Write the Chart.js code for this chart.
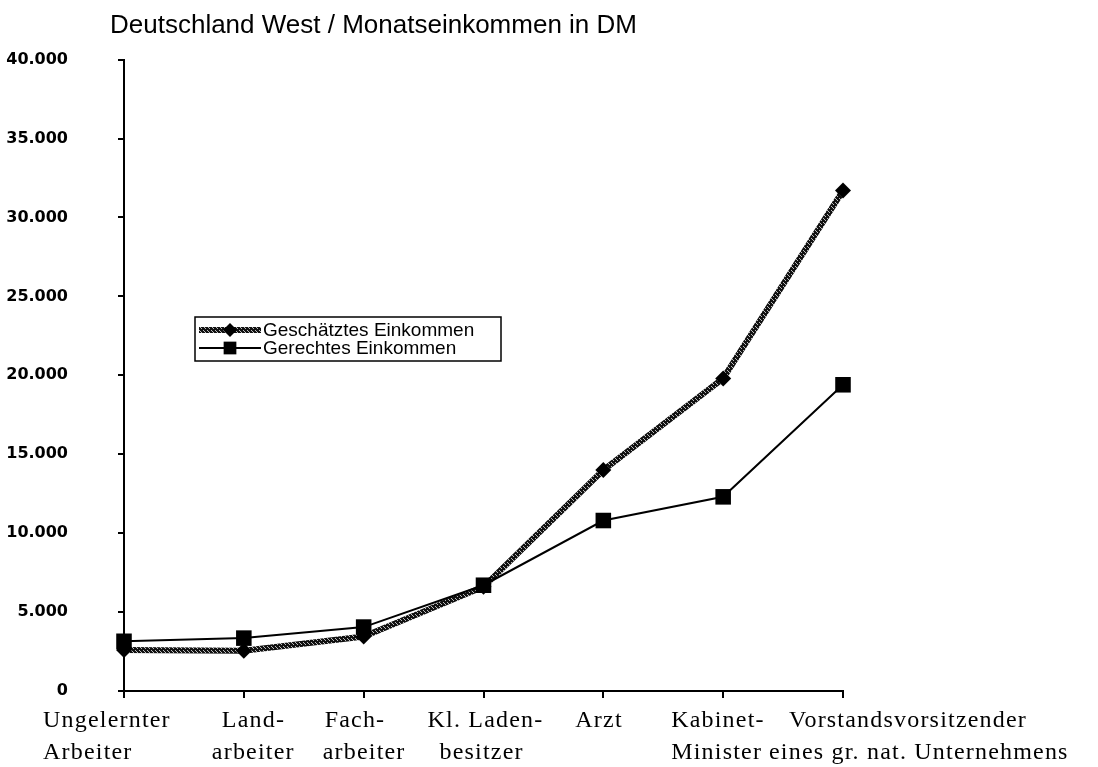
<!DOCTYPE html>
<html>
<head>
<meta charset="utf-8">
<script src="https://cdn.jsdelivr.net/npm/chart.js"></script>
<style>
  html, body { margin: 0; padding: 0; background: #fff; }
  #wrap { width: 1098px; height: 767px; position: relative; }
</style>
</head>
<body>
<div id="wrap"><canvas id="chart"></canvas></div>
<script>
// Berufe (zweizeilige Beschriftung)
const categories = [
    ['Ungelernter', 'Arbeiter'],
    ['Land-', 'arbeiter'],
    ['Fach-', 'arbeiter'],
    ['Kl. Laden-', 'besitzer'],
    ['Arzt', ''],
    ['Kabinet-', 'Minister'],
    ['Vorstandsvorsitzender', 'eines gr. nat. Unternehmens']
];
const geschaetzt = [2600, 2550, 3450, 6600, 14000, 19800, 31700];
const gerecht = [3150, 3350, 4050, 6700, 10800, 12300, 19400];
const yTicks = [0, 5000, 10000, 15000, 20000, 25000, 30000, 35000, 40000];
const titleText = 'Deutschland West / Monatseinkommen in DM';
const seriesNames = ['Geschätztes Einkommen', 'Gerechtes Einkommen'];

// gesprenkelte Linie wie im gedruckten Original
function speckle() {
    const c = document.createElement('canvas');
    c.width = 4; c.height = 4;
    const g = c.getContext('2d');
    g.fillStyle = '#111';
    g.fillRect(0, 0, 4, 4);
    g.fillStyle = '#bbb';
    g.fillRect(1, 0, 1, 1);
    g.fillRect(3, 2, 1, 1);
    g.fillRect(0, 3, 1, 1);
    return g.createPattern(c, 'repeat');
}

// linke Kante der Beschriftung relativ zum Kategoriepunkt
const labelShift = [[-81, -81], [-22, -32], [-39, -41], [-56, -44], [-28, 0], [-52, -52], [-54, -74]];

const overlay = {
    id: 'overlay',
    afterDraw(chart) {
        const ctx = chart.ctx;
        const x = chart.scales.x;
        ctx.save();
        // Titel
        ctx.fillStyle = '#000';
        ctx.font = '26px "Liberation Sans", Arial, sans-serif';
        ctx.textAlign = 'left';
        ctx.textBaseline = 'alphabetic';
        ctx.fillText(titleText, 110, 33);

        // Kategorien
        ctx.font = '24px "Liberation Serif", "Times New Roman", serif';
        ctx.letterSpacing = '1.2px';
        categories.forEach((lines, i) => {
            const px = x.getPixelForValue(i);
            ctx.fillText(lines[0], px + labelShift[i][0], 727);
            if (lines[1]) ctx.fillText(lines[1], px + labelShift[i][1], 759);
        });
        ctx.letterSpacing = '0px';

        // Legende
        const lx = 195, ly = 317, lw = 306, lh = 44;
        ctx.lineWidth = 1.5;
        ctx.strokeStyle = '#000';
        ctx.strokeRect(lx, ly, lw, lh);
        ctx.font = '19px "Liberation Sans", Arial, sans-serif';
        ctx.textBaseline = 'middle';
        const rows = [ly + 13, ly + 31];
        chart.data.datasets.forEach((ds, i) => {
            const yy = rows[i];
            ctx.beginPath();
            ctx.strokeStyle = ds.borderColor;
            ctx.lineWidth = ds.borderWidth;
            ctx.moveTo(lx + 4, yy);
            ctx.lineTo(lx + 66, yy);
            ctx.stroke();
            Chart.helpers.drawPoint(ctx, {
                pointStyle: ds.pointStyle,
                radius: ds.legendRadius,
                borderWidth: 0
            }, lx + 35, yy);
            ctx.fillStyle = '#000';
            ctx.fillText(seriesNames[i], lx + 68, yy + 1);
        });
        ctx.restore();
    }
};

const ctx = document.getElementById('chart');
new Chart(ctx, {
    type: 'line',
    data: {
        labels: categories.map(c => c.join(' ')),
        datasets: [
            {
                label: seriesNames[0],
                data: geschaetzt,
                borderColor: speckle(),
                borderWidth: 6,
                pointStyle: 'rectRot',
                pointRadius: 8,
                legendRadius: 7,
                pointBackgroundColor: '#000',
                pointBorderWidth: 0,
                tension: 0,
                order: 1
            },
            {
                label: seriesNames[1],
                data: gerecht,
                borderColor: '#000',
                borderWidth: 2,
                pointStyle: 'rect',
                pointRadius: 11,
                legendRadius: 9,
                pointBackgroundColor: '#000',
                pointBorderWidth: 0,
                tension: 0,
                order: 0
            }
        ]
    },
    options: {
        responsive: true,
        maintainAspectRatio: false,
        animation: false,
        clip: false,
        layout: { autoPadding: false, padding: { top: 45, right: 255, bottom: 0, left: 0 } },
        plugins: {
            legend: { display: false },
            title: { display: false },
            tooltip: { enabled: false }
        },
        scales: {
            x: {
                type: 'category',
                offset: false,
                grid: {
                    drawOnChartArea: false,
                    drawTicks: true,
                    tickLength: 7,
                    color: '#000',
                    lineWidth: 2
                },
                border: { display: true, color: '#000', width: 2 },
                ticks: { display: false },
                afterFit(scale) { scale.height = 76; }
            },
            y: {
                min: 0,
                max: 40000,
                afterBuildTicks(scale) { scale.ticks = yTicks.map(v => ({ value: v })); },
                grid: {
                    drawOnChartArea: false,
                    drawTicks: true,
                    tickLength: 6,
                    color: '#000',
                    lineWidth: 2
                },
                border: { display: true, color: '#000', width: 2 },
                ticks: {
                    color: '#000',
                    padding: 50,
                    font: { family: '"DejaVu Sans", sans-serif', size: 16, weight: 'bold' },
                    callback: v => v.toLocaleString('de-DE')
                },
                afterFit(scale) { scale.width = 124; }
            }
        }
    },
    plugins: [overlay]
});
</script>
</body>
</html>
